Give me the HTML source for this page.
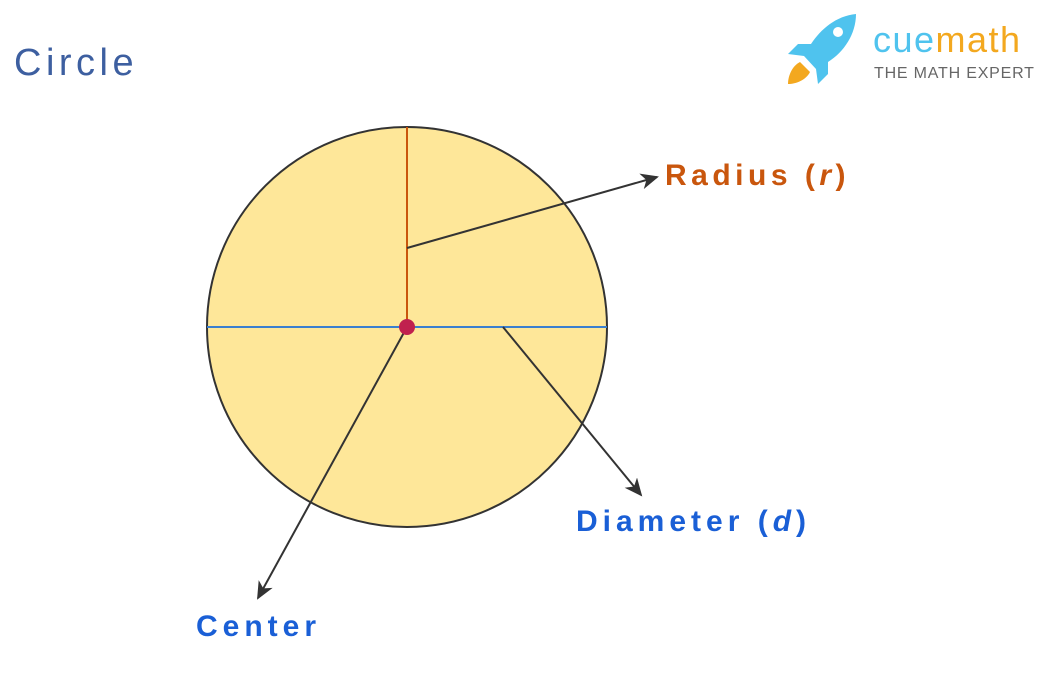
<!DOCTYPE html>
<html><head><style>
body{margin:0;width:1042px;height:672px;background:#fff;overflow:hidden}
svg text{font-family:"Liberation Sans","DejaVu Sans",sans-serif;font-weight:bold}
</style></head><body>
<svg width="1042" height="672" viewBox="0 0 1042 672">
<defs><marker id="a" markerWidth="18" markerHeight="16" refX="16" refY="8" orient="auto" markerUnits="userSpaceOnUse">
<path d="M0,0 L18,8 L0,16 L5,8 Z" fill="#333"/></marker></defs>
<text x="14" y="75" font-size="38" fill="#3d5fa0" style="font-weight:normal;letter-spacing:4.5px">Circle</text>
<circle cx="407" cy="327" r="200" fill="#fee799" stroke="#333" stroke-width="2"/>
<line x1="407" y1="127" x2="407" y2="327" stroke="#c9560d" stroke-width="2"/>
<line x1="207" y1="327" x2="607" y2="327" stroke="#3a7fcf" stroke-width="2"/>
<line x1="407" y1="248" x2="657" y2="177" stroke="#333" stroke-width="2" marker-end="url(#a)"/>
<line x1="503" y1="327" x2="641" y2="495" stroke="#333" stroke-width="2" marker-end="url(#a)"/>
<line x1="407" y1="327" x2="258" y2="598" stroke="#333" stroke-width="2" marker-end="url(#a)"/>
<circle cx="407" cy="327" r="8" fill="#c0214e"/>
<text x="665" y="185" font-size="30" fill="#c9560d" style="letter-spacing:4.5px">Radius (<tspan font-style="italic">r</tspan>)</text>
<text x="576" y="531" font-size="30" fill="#1a5fd6" style="letter-spacing:5px">Diameter (<tspan font-style="italic">d</tspan>)</text>
<text x="196" y="636" font-size="30" fill="#1a5fd6" style="letter-spacing:5px">Center</text>
<g transform="translate(786,14)">
<path d="M70,0 C50,2 35,15 25,30 L12,30 L2,40 L18,42 L30,55 L32,70 L42,60 L42,48 C58,38 70,20 70,0 Z" fill="#4fc3ee"/>
<circle cx="52" cy="18" r="5" fill="#fff"/>
<path d="M14,48 L24,58 C20,66 10,70 2,70 C2,62 6,52 14,48 Z" fill="#f3a81f"/>
</g>
<text x="873" y="52" font-size="36" fill="#4fc3ee" style="font-weight:normal;letter-spacing:1.5px">cue<tspan fill="#f3a81f">math</tspan></text>
<text x="874" y="78" font-size="16" fill="#666" style="font-weight:normal;letter-spacing:0.8px">THE MATH EXPERT</text>
</svg>
</body></html>
